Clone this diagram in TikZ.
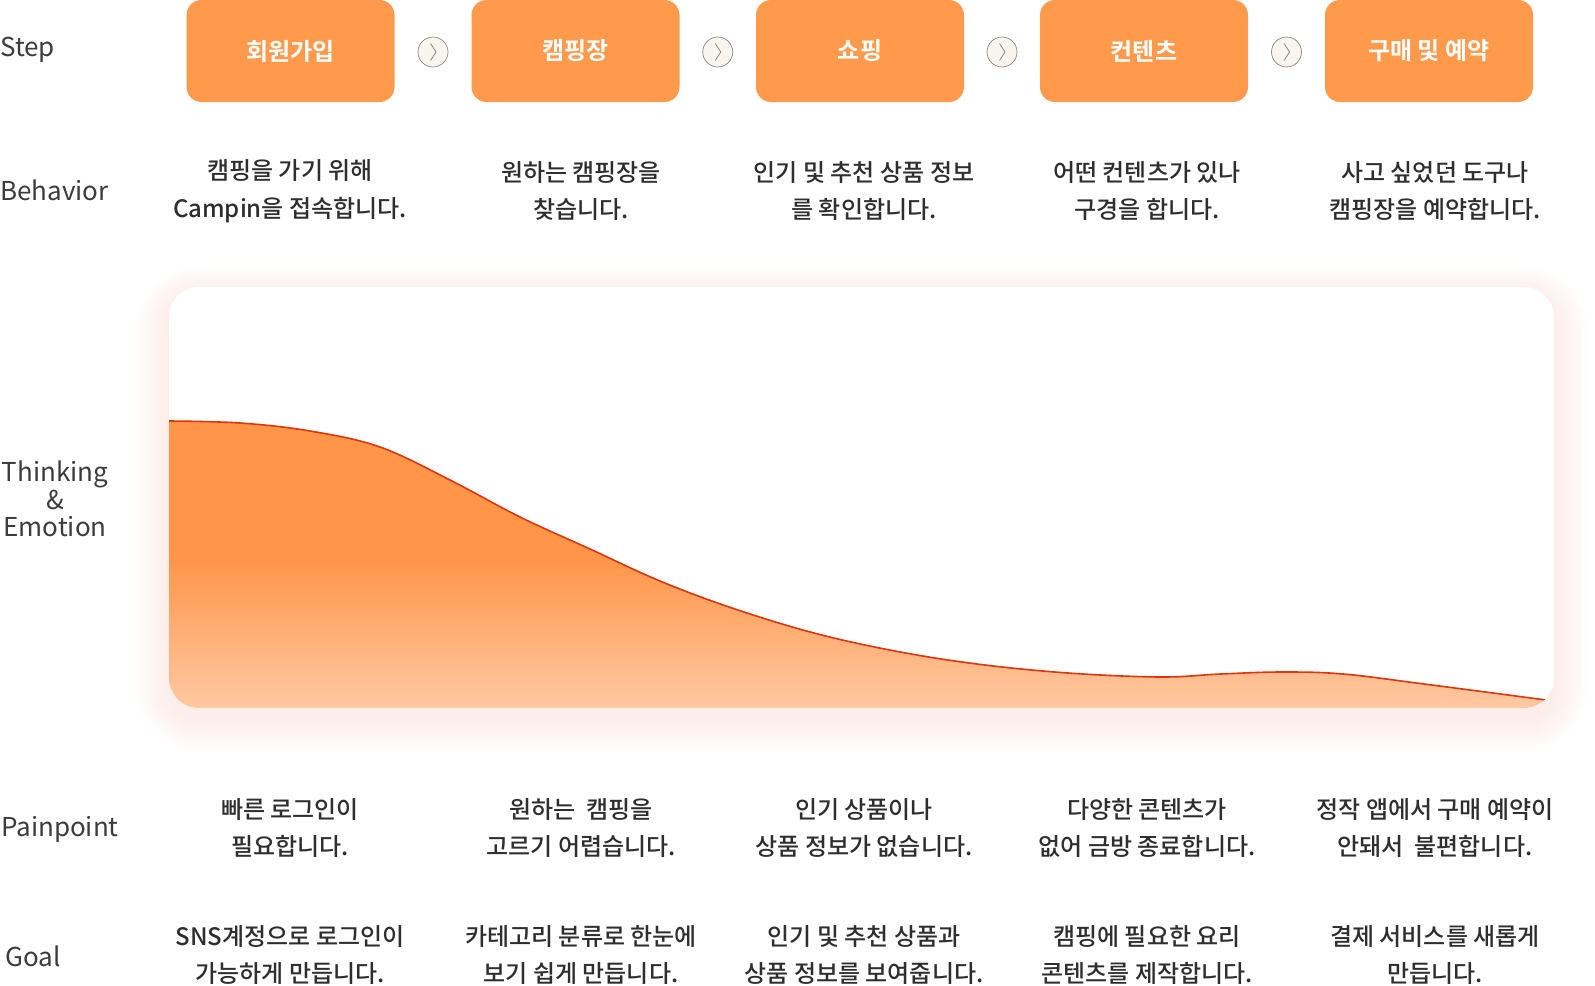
\documentclass[tikz,border=0pt]{standalone}
\usepackage{fontspec}
\setmainfont{Noto Sans CJK KR}[UprightFont=* Medium, BoldFont=* Bold]
\newfontfamily\lblfont{Noto Sans CJK KR}
\usetikzlibrary{positioning,calc}

\definecolor{steporange}{HTML}{FF9A4D}
\definecolor{emoorange}{HTML}{FF9549}
\definecolor{emolight}{HTML}{FFCDAA}
\definecolor{emoline}{HTML}{DF350D}
\definecolor{txtgray}{HTML}{2E2E2E}
\definecolor{lblgray}{HTML}{3C3C3C}
\definecolor{glowpink}{HTML}{F2B8AA}
\definecolor{chevfill}{HTML}{F8F4EE}
\definecolor{chevline}{HTML}{8C8782}

\pgfdeclareverticalshading{emofade}{100bp}{color(0bp)=(emolight); color(25bp)=(emolight); color(52bp)=(emoorange); color(100bp)=(emoorange)}

\tikzset{
  stepbox/.style={fill=steporange, rounded corners=15pt, minimum width=208pt,
    minimum height=102pt, inner sep=0pt, text=white,
    font=\fontsize{24}{28}\selectfont\bfseries},
  rowlabel/.style={anchor=west, inner sep=0pt, text=lblgray,
    font=\lblfont\fontsize{26}{27.5}\selectfont},
  celltext/.style={align=center, inner sep=0pt, text=txtgray,
    font=\fontsize{24}{37.5}\selectfont},
  nextmark/.style={circle, draw=chevline, fill=chevfill, line width=0.7pt,
    minimum size=30pt, inner sep=0pt},
  chevron/.style={draw=chevline, line width=0.8pt},
}

\begin{document}
\begin{tikzpicture}[x=1pt,y=-1pt]
  \useasboundingbox (0,0) rectangle (1595,985);

  % row titles
  \node[rowlabel] (lstep) at (0,50) {Step};
  \node[rowlabel] (lbeh) at (0,190) {Behavior};
  \node[rowlabel, anchor=center, align=center] (lthink) at (55,499) {Thinking\\\&\\Emotion};
  \node[rowlabel] (lpain) at (1,829) {Painpoint};
  \node[rowlabel] (lgoal) at (5,956) {Goal};

  % steps
  \foreach \i/\x/\lab in {1/290.5/회원가입, 2/575.5/캠핑장, 3/860/쇼핑, 4/1144/컨텐츠, 5/1429/구매 및 예약}{
    \node[stepbox] (step\i) at (\x,51) {\lab};
  }
  \foreach \i [evaluate=\i as \j using int(\i+1)] in {1,...,4}{
    \node[nextmark] (next\i) at ($(step\i.east)!0.5!(step\j.west)+(0,1)$) {};
    \draw[chevron] ($(next\i)+(-2.5,-8.5)$) -- ++(5.5,8.5) -- ++(-5.5,8.5);
  }

  % behavior
  \foreach \i/\x/\txt in {1/290/{캠핑을 가기 위해\\Campin을 접속합니다.},
      2/581/{원하는 캠핑장을\\찾습니다.},
      3/864/{인기 및 추천 상품 정보\\를 확인합니다.},
      4/1147/{어떤 컨텐츠가 있나\\구경을 합니다.},
      5/1435/{사고 싶었던 도구나\\캠핑장을 예약합니다.}}{
    \node[celltext] (beh\i) at (\x,191) {\txt};
  }

  % thinking & emotion chart
  \coordinate (emoNW) at (169,287);
  \coordinate (emoSE) at (1554,708);
  \foreach \g in {1,...,14}{
    \pgfmathsetmacro{\rr}{30+2.4*\g}
    \fill[glowpink, opacity=0.018, rounded corners=\rr pt]
      ($(emoNW)+(-2.4*\g,-2.2*\g+10)$) rectangle ($(emoSE)+(2.4*\g,2.4*\g+10)$);
  }
  \fill[white, rounded corners=30pt] (emoNW) rectangle (emoSE);
  \begin{scope}
    \clip[rounded corners=30pt] (emoNW) rectangle (emoSE);
    \shade[shading=emofade]
      plot[smooth, tension=0.6] coordinates {(169,421) (240,423) (310,431) (380,447)
        (450,480) (520,517) (590,549) (660,581) (732,608) (814,633) (895,651)
        (977,664) (1068,673) (1160,677) (1221,674) (1282,672) (1343,674) (1424,684) (1546,700)}
      -- (1560,702) -- (1560,720) -- (160,720) -- (160,421) -- cycle;
    \draw[emoline, line width=1.6pt]
      plot[smooth, tension=0.6] coordinates {(169,421) (240,423) (310,431) (380,447)
        (450,480) (520,517) (590,549) (660,581) (732,608) (814,633) (895,651)
        (977,664) (1068,673) (1160,677) (1221,674) (1282,672) (1343,674) (1424,684) (1546,700)};
  \end{scope}

  % painpoint
  \foreach \i/\x/\txt in {1/290/{빠른 로그인이\\필요합니다.},
      2/581/{원하는 \ 캠핑을\\고르기 어렵습니다.},
      3/864/{인기 상품이나\\상품 정보가 없습니다.},
      4/1147/{다양한 콘텐츠가\\없어 금방 종료합니다.},
      5/1435/{정작 앱에서 구매 예약이\\안돼서 \ 불편합니다.}}{
    \node[celltext] (pain\i) at (\x,828) {\txt};
  }

  % goal
  \foreach \i/\x/\txt in {1/290/{SNS계정으로 로그인이\\가능하게 만듭니다.},
      2/581/{카테고리 분류로 한눈에\\보기 쉽게 만듭니다.},
      3/864/{인기 및 추천 상품과\\상품 정보를 보여줍니다.},
      4/1147/{캠핑에 필요한 요리\\콘텐츠를 제작합니다.},
      5/1435/{결제 서비스를 새롭게\\만듭니다.}}{
    \node[celltext] (goal\i) at (\x,955) {\txt};
  }
\end{tikzpicture}
\end{document}
